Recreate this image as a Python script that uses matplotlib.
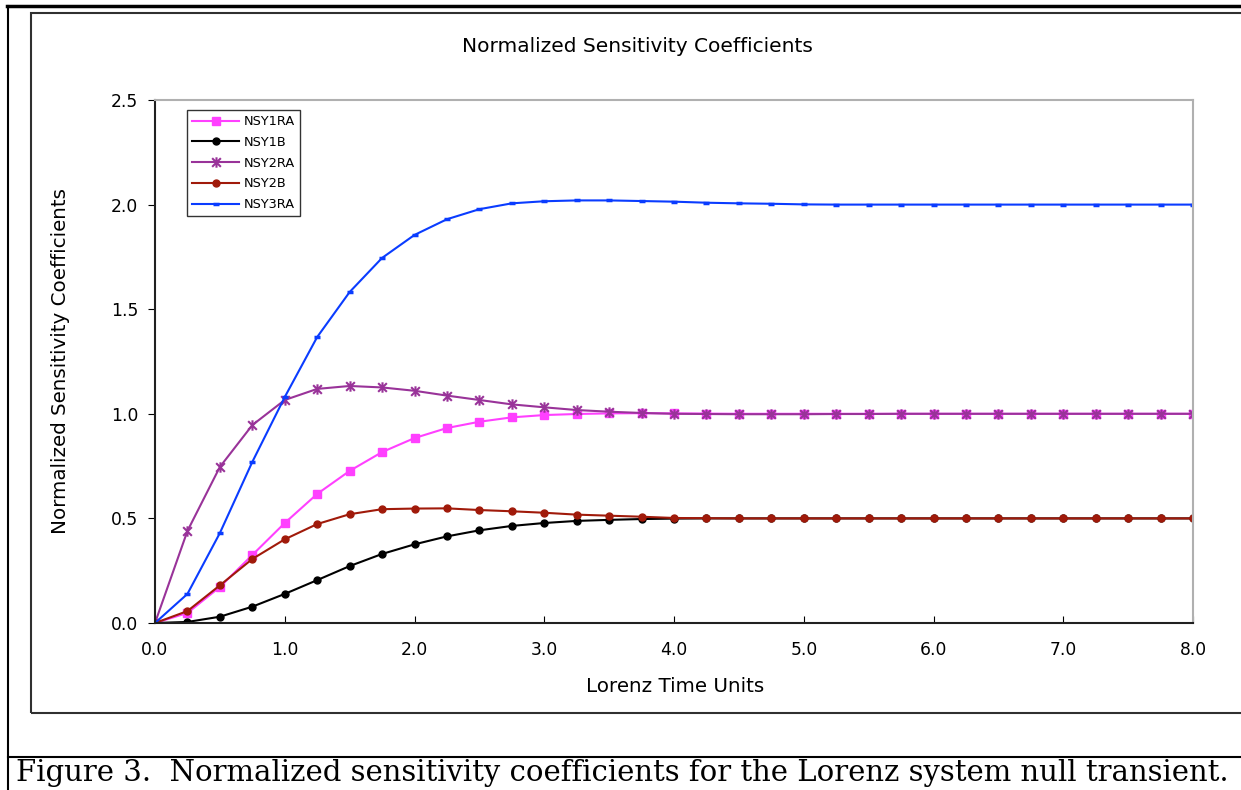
import numpy as np
import matplotlib
matplotlib.use("Agg")
import matplotlib.pyplot as plt
from matplotlib.lines import Line2D
from matplotlib.patches import Rectangle
from matplotlib.path import Path

# Lorenz time axis, 0 to 8 in steps of 0.25
t = [0.0, 0.25, 0.5, 0.75, 1.0, 1.25, 1.5, 1.75, 2.0, 2.25, 2.5, 2.75, 3.0,
     3.25, 3.5, 3.75, 4.0, 4.25, 4.5, 4.75, 5.0, 5.25, 5.5, 5.75, 6.0, 6.25,
     6.5, 6.75, 7.0, 7.25, 7.5, 7.75, 8.0]

nsy1ra = [0.0, 0.048, 0.172, 0.325, 0.478, 0.617, 0.727, 0.817, 0.884, 0.932,
          0.962, 0.983, 0.994, 0.999, 1.002, 1.003, 1.002, 1.001, 1.0, 1.0,
          1.0, 1.0, 1.0, 1.0, 1.0, 1.0, 1.0, 1.0, 1.0, 1.0, 1.0, 1.0, 1.0]
nsy1b = [0.0, 0.005, 0.030, 0.078, 0.139, 0.205, 0.272, 0.330, 0.376, 0.414,
         0.443, 0.464, 0.478, 0.488, 0.493, 0.497, 0.499, 0.5, 0.5, 0.5, 0.5,
         0.5, 0.5, 0.5, 0.5, 0.5, 0.5, 0.5, 0.5, 0.5, 0.5, 0.5, 0.5]
nsy2ra = [0.0, 0.440, 0.746, 0.946, 1.066, 1.119, 1.133, 1.126, 1.110, 1.087,
          1.066, 1.045, 1.031, 1.018, 1.010, 1.004, 1.0, 0.999, 0.998, 0.998,
          0.998, 0.999, 0.999, 1.0, 1.0, 1.0, 1.0, 1.0, 1.0, 1.0, 1.0, 1.0, 1.0]
nsy2b = [0.0, 0.057, 0.180, 0.306, 0.400, 0.473, 0.520, 0.544, 0.547, 0.548,
         0.540, 0.534, 0.527, 0.518, 0.513, 0.508, 0.502, 0.501, 0.5, 0.5,
         0.5, 0.5, 0.5, 0.5, 0.5, 0.5, 0.5, 0.5, 0.5, 0.5, 0.5, 0.5, 0.5]
nsy3ra = [0.0, 0.139, 0.430, 0.770, 1.080, 1.367, 1.582, 1.745, 1.855, 1.930,
          1.978, 2.006, 2.016, 2.020, 2.020, 2.017, 2.014, 2.009, 2.006, 2.004,
          2.001, 2.0, 2.0, 2.0, 2.0, 2.0, 2.0, 2.0, 2.0, 2.0, 2.0, 2.0, 2.0]

# Excel-style "star" marker: an x with a vertical bar through it
star = Path([(-1, -1), (1, 1), (-1, 1), (1, -1), (0, -1.2), (0, 1.2)],
            [Path.MOVETO, Path.LINETO, Path.MOVETO, Path.LINETO,
             Path.MOVETO, Path.LINETO])

series = [
    ("NSY1RA", nsy1ra, "#ff40ff", "s", 5.5, 1.0),
    ("NSY1B", nsy1b, "#000000", "o", 5, 1.0),
    ("NSY2RA", nsy2ra, "#993399", star, 7.5, 1.5),
    ("NSY2B", nsy2b, "#a01a0a", "o", 5, 1.0),
    ("NSY3RA", nsy3ra, "#0a3cff", "_", 5, 2.5),
]

plt.rcParams['font.family'] = ['DejaVu Sans']

fig = plt.figure(figsize=(12.41, 7.90), dpi=100)
W, H = 1241.0, 790.0

def fx(px):
    return px / W

def fy(py):
    return 1 - py / H

# page / chart frames
fig.add_artist(Line2D([fx(7), 1], [fy(6), fy(6)], color="black", lw=2.5))
fig.add_artist(Line2D([fx(8), fx(8)], [fy(6), 0], color="black", lw=1.5))
fig.add_artist(Line2D([fx(8), 1], [fy(757), fy(757)], color="black", lw=1.5))
fig.add_artist(Rectangle((fx(31), fy(713)), 1.1, fy(13) - fy(713),
                         transform=fig.transFigure, fill=False,
                         edgecolor="#303030", lw=1.5))

ax = fig.add_axes([fx(155), fy(623), fx(1193) - fx(155), fy(100) - fy(623)])

for name, vals, col, mk, ms, mew in series:
    ax.plot(t, vals, color=col, lw=1.5, marker=mk, markersize=ms,
            markeredgewidth=mew, markeredgecolor=col, label=name)

ax.set_xlim(0, 8)
ax.set_ylim(0, 2.5)
ax.set_xticks(np.arange(0, 8.01, 1.0))
ax.set_yticks(np.arange(0, 2.51, 0.5))
ax.set_xticklabels([f"{v:.1f}" for v in np.arange(0, 8.01, 1.0)])
ax.set_yticklabels([f"{v:.1f}" for v in np.arange(0, 2.51, 0.5)])
ax.tick_params(axis="x", direction="in", length=5, pad=13, labelsize=12.3)
ax.tick_params(axis="y", direction="out", length=5, pad=7, labelsize=12.3)

ax.spines["left"].set_color("#202020")
ax.spines["bottom"].set_color("#202020")
ax.spines["top"].set_color("#b0b0b0")
ax.spines["right"].set_color("#b0b0b0")
for s in ax.spines.values():
    s.set_linewidth(1.5)

leg = ax.legend(loc="upper left", bbox_to_anchor=(0.031, 0.981),
                borderaxespad=0, fontsize=9.3, frameon=True, fancybox=False,
                handlelength=3.6, handletextpad=0.35, labelspacing=0.6,
                borderpad=0.4)
leg.get_frame().set_edgecolor("black")
leg.get_frame().set_linewidth(1.0)

fig.text(fx(637), fy(46), "Normalized Sensitivity Coefficients",
         ha="center", va="center", fontsize=14.5)
fig.text(fx(675), fy(686), "Lorenz Time Units", ha="center", va="center",
         fontsize=14.3)
fig.text(fx(61), fy(361), "Normalized Sensitivity Coefficients", ha="center",
         va="center", rotation=90, fontsize=14.3)

fig.text(fx(622), fy(773),
         "Figure 3.  Normalized sensitivity coefficients for the Lorenz system null transient.",
         ha="center", va="center", fontsize=21, family="DejaVu Serif")

fig.savefig("out.png", dpi=100)
